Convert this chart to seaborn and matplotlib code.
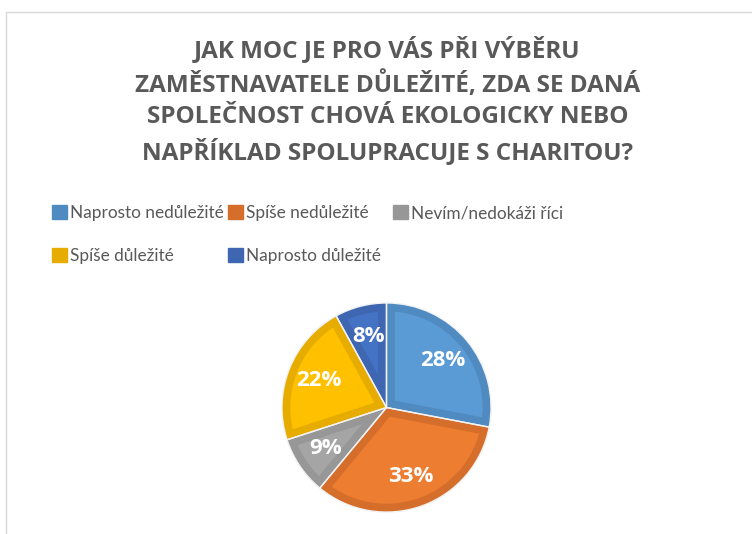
import numpy as np
import pandas as pd
import seaborn as sns
import matplotlib.pyplot as plt
from matplotlib.patches import Rectangle

sns.set_theme(style="white")
plt.rcParams['font.family'] = ['Open Sans', 'DejaVu Sans']

# data
labels = ['Naprosto nedůležité', 'Spíše nedůležité', 'Nevím/nedokáži říci',
          'Spíše důležité', 'Naprosto důležité']
values = [28, 33, 9, 22, 8]
inner_colors = ['#5B9BD5', '#ED7D31', '#A5A5A5', '#FFC000', '#4472C4']
edge_colors = ['#4F8AC0', '#D46E2A', '#979797', '#E6AC00', '#3E66B1']
title = ('JAK MOC JE PRO VÁS PŘI VÝBĚRU\n'
         'ZAMĚSTNAVATELE DŮLEŽITÉ, ZDA SE DANÁ\n'
         'SPOLEČNOST CHOVÁ EKOLOGICKY NEBO\n'
         'NAPŘÍKLAD SPOLUPRACUJE S CHARITOU?')

fig = plt.figure(figsize=(7.52, 5.34), dpi=100)
ax = fig.add_axes([0.361, 0.0215, 0.3059, 0.4307])

# pie with darker inner rim (stroke clipped to the wedge itself)
wedges, texts, autotexts = ax.pie(values, colors=inner_colors, startangle=90,
                                  counterclock=False, autopct='%1.0f%%',
                                  pctdistance=0.7,
                                  textprops=dict(color='white', fontsize=16,
                                                 fontweight='bold'))
for w, ec in zip(wedges, edge_colors):
    w.set_edgecolor(ec)
    w.set_linewidth(12)
    w.set_clip_on(True)
    w.set_clip_path(w)
# thin white separators
sep, _ = ax.pie(values, startangle=90, counterclock=False,
                wedgeprops=dict(fill=False, edgecolor='#F2F2F2', linewidth=1.0))
for t in autotexts:
    t.set_zorder(5)
ax.set_xlim(-1.1, 1.1)
ax.set_ylim(-1.1, 1.1)
ax.set_aspect('equal')

# legend, laid out in three columns, filled row by row
col_x = [40, 216, 381]
cols = [[0, 3], [1, 4], [2]]
for cx, idx in zip(col_x, cols):
    handles = [Rectangle((0, 0), 1, 1, color=edge_colors[i]) for i in idx]
    fig.legend(handles, [labels[i] for i in idx], ncol=1, frameon=False,
               loc='upper left', bbox_to_anchor=(cx / 752, 1 - 193 / 534),
               prop=dict(family='Lato', size=12.4), labelcolor='#595959',
               handlelength=0.85, handleheight=0.85, handletextpad=0.2,
               labelspacing=1.55, borderpad=0.2)

fig.text(0.515, 1 - 36 / 534, title, ha='center', va='top', fontsize=17.5,
         fontweight='bold', color='#595959', linespacing=1.4)

# chart frame
fig.add_artist(Rectangle((6 / 752, -0.1), 1.2, 1 - 12 / 534 + 0.1,
                         transform=fig.transFigure, fill=False,
                         edgecolor='#D9D9D9', linewidth=1))

fig.savefig('out.png', dpi=100)
